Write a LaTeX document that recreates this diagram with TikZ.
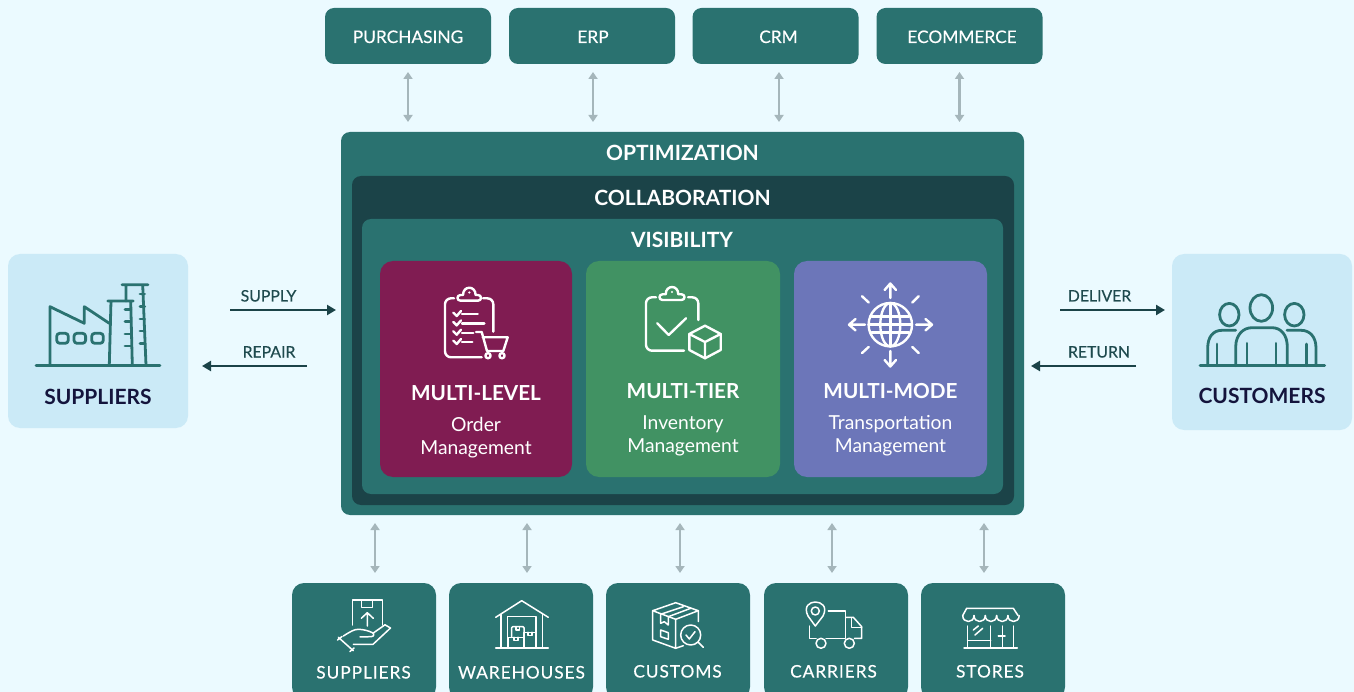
\documentclass[tikz,border=0pt]{standalone}
\usepackage{fontspec}
\setmainfont{Lato}
\newfontfamily\spacedfont[LetterSpace=5.5,FakeBold=0.25]{Lato}
\newfontfamily\medfont[FakeBold=0.3]{Lato}
\usetikzlibrary{arrows.meta}
\definecolor{bgc}{HTML}{EBFAFF}
\definecolor{tealc}{HTML}{2A7270}
\definecolor{darkc}{HTML}{1B4348}
\definecolor{lightc}{HTML}{CBEAF7}
\definecolor{maroonc}{HTML}{801C52}
\definecolor{greenc}{HTML}{419263}
\definecolor{purplec}{HTML}{6C76B9}
\definecolor{greyc}{HTML}{A5B6BB}
\definecolor{navyc}{HTML}{14143C}
\definecolor{labelc}{HTML}{1E4A4E}
\tikzset{
 x=1pt,y=-1pt,
 panel/.style={rectangle,rounded corners=#1,inner sep=0pt,outer sep=0pt},
 topbox/.style={panel=9,fill=tealc,minimum width=166pt,minimum height=56pt},
 toplabel/.style={text=white,inner sep=0pt,font=\medfont\fontsize{17.3}{20}\selectfont},
 botbox/.style={panel=12,fill=tealc,minimum width=144pt,minimum height=116pt},
 sidebox/.style={panel=12,fill=lightc,minimum width=180pt},
 cardbox/.style={panel=13,minimum height=216pt},
 bigtitle/.style={anchor=base,text=white,font=\bfseries\fontsize{21}{25}\selectfont},
 cardtitle/.style={anchor=base,text=white,font=\bfseries\fontsize{20.7}{25}\selectfont},
 cardtext/.style={align=center,text=white,font=\fontsize{19.3}{23}\selectfont},
 sidetitle/.style={anchor=base,text=navyc,font=\bfseries\fontsize{21}{25}\selectfont},
 flowlabel/.style={anchor=base,text=labelc,font=\medfont\fontsize{15.8}{18}\selectfont},
 botlabel/.style={anchor=base,text=white,font=\spacedfont\fontsize{17.3}{20}\selectfont},
 biarrow/.style={draw=greyc,line width=2.2pt,{Triangle[length=7pt,width=9pt]}-{Triangle[length=7pt,width=9pt]}},
 flow/.style={draw=darkc,line width=2.8pt,-{Triangle[length=9pt,width=10pt]}},
 iconA/.style={draw=tealc,line width=2.8pt,line cap=round,line join=round},
 iconB/.style={draw=white,line width=2.4pt,line cap=round,line join=round},
 iconC/.style={draw=white,line width=1.5pt,line cap=round,line join=round},
}
\begin{document}
\begin{tikzpicture}
\useasboundingbox (0,0) rectangle (1354,692);
\clip (0,0) rectangle (1354,692);
\fill[bgc] (0,0) rectangle (1354,692);
% top boxes
\node[topbox] (purch) at (408,36) {};
\node[topbox] (erp) at (592,36) {};
\node[topbox] (crm) at (775.5,36) {};
\node[topbox] (ecom) at (959.5,36) {};
\node[toplabel] (purchT) at (408,36.8) {PURCHASING};
\node[toplabel] (erpT) at (593,36.8) {ERP};
\node[toplabel] (crmT) at (778.5,36.8) {CRM};
\node[toplabel] (ecomT) at (962,36.8) {ECOMMERCE};
% centre
\node[panel=9,fill=tealc,minimum width=683pt,minimum height=383pt] (opt) at (682.5,323.5) {};
\node[panel=9,fill=darkc,minimum width=662pt,minimum height=329pt] (collab) at (683,340.5) {};
\node[panel=9,fill=tealc,minimum width=641pt,minimum height=275pt] (vis) at (682.5,356.5) {};
\node[bigtitle] (optT) at (682.5,161) {OPTIMIZATION};
\node[bigtitle] (colT) at (682.5,206) {COLLABORATION};
\node[bigtitle] (visT) at (682,248) {VISIBILITY};
\node[cardbox,fill=maroonc,minimum width=192pt] (c1) at (476,369) {};
\node[cardbox,fill=greenc,minimum width=194pt] (c2) at (683,369) {};
\node[cardbox,fill=purplec,minimum width=193pt] (c3) at (890.5,369) {};
\node[cardtitle] (c1t) at (476,400) {MULTI-LEVEL};
\node[cardtitle] (c2t) at (683,398) {MULTI-TIER};
\node[cardtitle] (c3t) at (890.5,398) {MULTI-MODE};
\node[cardtext] (c1s) at (476,438) {Order\\Management};
\node[cardtext] (c2s) at (683,436) {Inventory\\Management};
\node[cardtext] (c3s) at (890.5,436) {Transportation\\Management};
% side boxes
\node[sidebox,minimum height=174pt] (sup) at (98,341) {};
\node[sidebox,minimum height=176pt] (cust) at (1262,342) {};
\node[sidetitle] (supT) at (98,404) {SUPPLIERS};
\node[sidetitle] (custT) at (1262,403) {CUSTOMERS};
% bottom boxes
\node[botbox] (b1) at (364,641) {};
\node[botbox] (b2) at (521,641) {};
\node[botbox] (b3) at (678,641) {};
\node[botbox] (b4) at (836,641) {};
\node[botbox] (b5) at (993,641) {};
\node[botlabel] (b1t) at (363.5,678.5) {SUPPLIERS};
\node[botlabel] (b2t) at (521.5,678.5) {WAREHOUSES};
\node[botlabel] (b3t) at (677.5,677.5) {CUSTOMS};
\node[botlabel] (b4t) at (833.5,677.5) {CARRIERS};
\node[botlabel] (b5t) at (990,677.5) {STORES};
% grey arrows top
\draw[biarrow] ([yshift=-8pt]purch.south) -- (purch.south |- 0,122);
\draw[biarrow] ([xshift=1pt,yshift=-8pt]erp.south) -- ([xshift=1pt]erp.south |- 0,122);
\draw[biarrow] ([xshift=3.5pt,yshift=-8pt]crm.south) -- ([xshift=3.5pt]crm.south |- 0,122);
\draw[biarrow] ([yshift=-8pt]ecom.south) -- (ecom.south |- 0,122);
% grey arrows bottom
\draw[biarrow] ([xshift=11pt]b1.north |- opt.south) ++(0,8) -- ++(0,50);
\draw[biarrow] ([xshift=6pt]b2.north |- opt.south) ++(0,8) -- ++(0,50);
\draw[biarrow] ([xshift=2pt]b3.north |- opt.south) ++(0,8) -- ++(0,50);
\draw[biarrow] ([xshift=-4pt]b4.north |- opt.south) ++(0,8) -- ++(0,50);
\draw[biarrow] ([xshift=-9pt]b5.north |- opt.south) ++(0,8) -- ++(0,50);
% flow arrows
\coordinate (supR) at (230,310); \coordinate (optL) at (336,310);
\coordinate (repR) at (307,366); \coordinate (supL) at (202,366);
\coordinate (optR) at (1060,310); \coordinate (custL) at (1165,310);
\coordinate (custR) at (1136,366); \coordinate (optE) at (1031,366);
\draw[flow] (supR) -- (optL);
\draw[flow] (repR) -- (supL);
\draw[flow] (optR) -- (custL);
\draw[flow] (custR) -- (optE);
\node[flowlabel] (l1) at (268.5,301.5) {SUPPLY};
\node[flowlabel] (l2) at (269,357.5) {REPAIR};
\node[flowlabel] (l3) at (1099.5,301.5) {DELIVER};
\node[flowlabel] (l4) at (1099,357.5) {RETURN};
% factory icon
\draw[iconA] (36,365.3) -- (160,365.3);
\draw[iconA] (50,365) -- (50,306.7) -- (84.3,323.3) -- (84.3,306.7) -- (109.3,323.3);
\draw[iconA] (109.3,365) -- (111,301) (130.7,301) -- (132.3,365) (107.7,301) -- (133.3,301);
\draw[iconA] (122,284.7) -- (148,284.7) (126,284.7) -- (126,301) (142.7,285) -- (146,365);
\foreach \yy in {309.3,321.3,334,346} \draw[iconA] (125,\yy) -- (130.7,\yy);
\foreach \yy in {294,306.7,319,331,343.3} \draw[iconA] (140,\yy) -- (144.7,\yy);
\foreach \xx in {56.7,74,91.7} \draw[iconA,rounded corners=3pt] (\xx,333.3) rectangle (\xx+11.6,343.3);
% people icon
\draw[iconA] (1200,365.7) -- (1324.7,365.7);
\draw[iconA] (1261.3,308) ellipse [x radius=11.3,y radius=13.3];
\draw[iconA] (1229.3,314.7) ellipse [x radius=9.7,y radius=11.3];
\draw[iconA] (1294.3,314.7) ellipse [x radius=9.7,y radius=11.3];
\draw[iconA] (1235.7,365.7) -- (1235.7,347) .. controls (1235.7,335) and (1243,327.7) .. (1252,327.7) -- (1272,327.7) .. controls (1281,327.7) and (1287.3,335) .. (1287.3,347) -- (1287.3,365.7);
\draw[iconA] (1247,343.3) -- (1247,365.7) (1276,343.3) -- (1276,365.7);
\draw[iconA] (1207.7,365.7) -- (1207.7,348) .. controls (1207.7,337) and (1213,330.3) .. (1222,330.3) -- (1235.7,330.3);
\draw[iconA] (1217,344) -- (1217,365.7) (1306.7,344) -- (1306.7,365.7);
\draw[iconA] (1316,365.7) -- (1316,348) .. controls (1316,337) and (1310,330.3) .. (1301,330.3) -- (1287,330.3);
% order icon
\draw[iconB,rounded corners=6pt] (454,298.3) -- (445,298.3) -- (445,357.3) -- (481.7,357.3);
\draw[iconB,rounded corners=6pt] (483,298.3) -- (493.3,298.3) -- (493.3,331.7);
\draw[iconB] (460.5,300.7) .. controls (456.5,300.7) and (456.5,295) .. (460.5,295) -- (463,295) .. controls (463,285.3) and (475.6,285.3) .. (475.6,295) -- (478,295) .. controls (482,295) and (482,300.7) .. (478,300.7) -- cycle;
\fill[white] (469.3,292.5) circle (1.2);
\foreach \yy/\xe in {314.3/477.7,323.7/484.3,333/473.3,342.3/472.3}{
 \draw[iconB] (453.3,\yy-1.7) -- (456.7,\yy+1.7) -- (461,\yy-3.3);
 \draw[iconB] (462,\yy) -- (\xe,\yy);
}
\draw[iconB] (476,332) -- (481.7,332) -- (487,351) -- (503.3,351) -- (507.7,337.3) -- (482.7,337.3);
\draw[iconB] (488,355.7) circle (2.6) (502,355.7) circle (2.6);
% inventory icon
\draw[iconB,rounded corners=6pt] (656,297.3) -- (646,297.3) -- (646,350.7) -- (684,350.7);
\draw[iconB,rounded corners=6pt] (688,297.3) -- (698.3,297.3) -- (698.3,320);
\draw[iconB] (662.5,300) .. controls (658.5,300) and (658.5,294.3) .. (662.5,294.3) -- (665.7,294.3) .. controls (665.7,284.6) and (678.3,284.6) .. (678.3,294.3) -- (681.5,294.3) .. controls (685.5,294.3) and (685.5,300) .. (681.5,300) -- cycle;
\fill[white] (672,292) circle (1.2);
\draw[iconB] (657.3,323.3) -- (668.7,335) -- (686,318.3);
\draw[iconB] (705,325.7) -- (720.7,334) -- (720.7,350) -- (705,358.3) -- (689.3,350) -- (689.3,334) -- cycle;
\draw[iconB] (689.3,334) -- (705,342) -- (720.7,334) (705,342) -- (705,358.3);
% globe icon
\draw[iconB] (890.3,324.7) circle (21.7);
\draw[iconB] (890.3,324.7) ellipse [x radius=10,y radius=21.7];
\draw[iconB] (890.3,303) -- (890.3,346.4);
\draw[iconB] (868.6,324.7) -- (912,324.7) (871.5,316.7) -- (909.1,316.7) (871.5,332.7) -- (909.1,332.7);
\draw[iconB] (890.3,298) -- (890.3,283.5) (884.6,290) -- (890.3,283.5) -- (896,290);
\draw[iconB] (890.3,351) -- (890.3,366.5) (884.6,360) -- (890.3,366.5) -- (896,360);
\draw[iconB] (916,324.7) -- (932,324.7) (925.5,319) -- (932,324.7) -- (925.5,330.4);
\draw[iconB] (865,324.7) -- (849,324.7) (855.5,319) -- (849,324.7) -- (855.5,330.4);
\draw[iconB] (862,296.2) -- (868.7,302.5) (918.7,296.2) -- (912.3,302.5) (868.7,346.9) -- (862,353.1) (912.3,346.9) -- (918.7,353.1);
% hand box icon
\draw[iconC] (352.3,625) -- (352.3,600) -- (382.3,600) -- (382.3,625);
\draw[iconC] (361.3,600) -- (361.3,607.3) -- (372.7,607.3) -- (372.7,600);
\draw[iconC] (367.3,626) -- (367.3,612.7) (361.3,618.3) -- (367.3,612.7) -- (373.3,618.3);
\draw[iconC] (338.3,637.3) -- (353.3,650.7) (337.5,640) -- (342,636.5) (350,651.5) -- (354,648);
\draw[iconC] (343.3,636) .. controls (350,632) and (354,629) .. (359,629.3) .. controls (364,629.5) and (369,631) .. (372,632.5) .. controls (375,634) and (374,636.5) .. (371,636.7) -- (360,636.9);
\draw[iconC] (353.3,644.3) -- (373,644.3) -- (390.5,628) -- (385,624.8) -- (373.3,633);
% warehouse icon
\draw[iconC] (495.7,617.3) -- (521.7,600.7) -- (548.3,617.3);
\draw[iconC] (501,614.5) -- (501,648) (542.3,614.5) -- (542.3,648) (495.7,648) -- (548.3,648);
\draw[iconC] (507.3,648) -- (507.3,616.7) -- (536,616.7) -- (536,648);
\draw[iconC,rounded corners=1pt] (511.7,637.3) -- (511.7,626.7) -- (524,626.7) -- (524,637.3);
\draw[iconC] (508.3,637.3) rectangle (524,648) (524,632.3) rectangle (536,648);
\draw[iconC] (516,626.7) -- (516,630) -- (519.5,630) -- (519.5,626.7);
\draw[iconC] (514,637.3) -- (514,640.5) -- (518,640.5) -- (518,637.3);
\draw[iconC] (528,632.3) -- (528,635.5) -- (532,635.5) -- (532,632.3);
% customs icon
\draw[iconC] (652.7,610.7) -- (675.7,602.7) -- (698.3,610.7) -- (675.7,619.3) -- cycle;
\draw[iconC] (652.7,610.7) -- (652.7,640) -- (675.7,648.3) -- (675.7,619.3);
\draw[iconC] (698.3,610.7) -- (698.3,621.5) (675.7,648.3) -- (683.3,645.7);
\draw[iconC] (683.3,606.7) -- (660.7,614.3) -- (660.7,623.3) -- (664.3,621.7) -- (668.3,625) -- (668.3,616.7) -- (690.7,608.3);
\draw[iconC] (660.7,630) -- (668.3,632.7) -- (668.3,639.3) -- (660.7,636.7) -- cycle;
\draw[iconC] (690.7,635) circle (10);
\draw[iconC] (698.3,642.3) -- (703.3,647.3);
\draw[iconC] (686,635) -- (689.3,639) -- (695,631.7);
% truck icon
\draw[iconC] (815.3,626) -- (808,616) .. controls (803,606) and (810,602) .. (815.3,602) .. controls (821,602) and (828,606) .. (823,616) -- cycle;
\draw[iconC] (815.3,611) circle (4);
\draw[iconC] (828.3,611) -- (845.7,611) -- (845.7,638.3) -- (826,638.3);
\draw[iconC] (809.3,626) -- (809.3,638.3) -- (816,638.3);
\draw[iconC] (845.7,617.3) -- (853.3,617.3) -- (861.7,626.7) -- (861.7,638.3) -- (854.5,638.3);
\draw[iconC] (851.7,618) -- (851.7,627.7) -- (861.7,627.7);
\draw[iconC] (821,643.3) circle (5) (849.3,643.3) circle (5);
% store icon
\draw[iconC] (966.7,608.3) -- (1013.3,608.3) -- (1018,615.5);
\draw[iconC] (966.7,608.3) -- (962.7,615.5);
\foreach \xx in {962.7,974,985.3,996.6,1007.9}
  \draw[iconC] (\xx,615.5) .. controls (\xx,623.5) and (\xx+11.3,623.5) .. (\xx+11.3,615.5);
\draw[iconC] (967.7,626) -- (967.7,648) (1013.3,626) -- (1013.3,648) (964,648) -- (1017.3,648);
\draw[iconC] (990.7,626) -- (990.7,648) (1002.3,626) -- (1002.3,648) (998.3,636) -- (1005,636);
\draw[iconC] (967.7,640.7) -- (990.7,640.7);
\draw[iconC] (973.3,630) -- (978.3,626) (975,635) -- (982.7,628.3);
\end{tikzpicture}
\end{document}
